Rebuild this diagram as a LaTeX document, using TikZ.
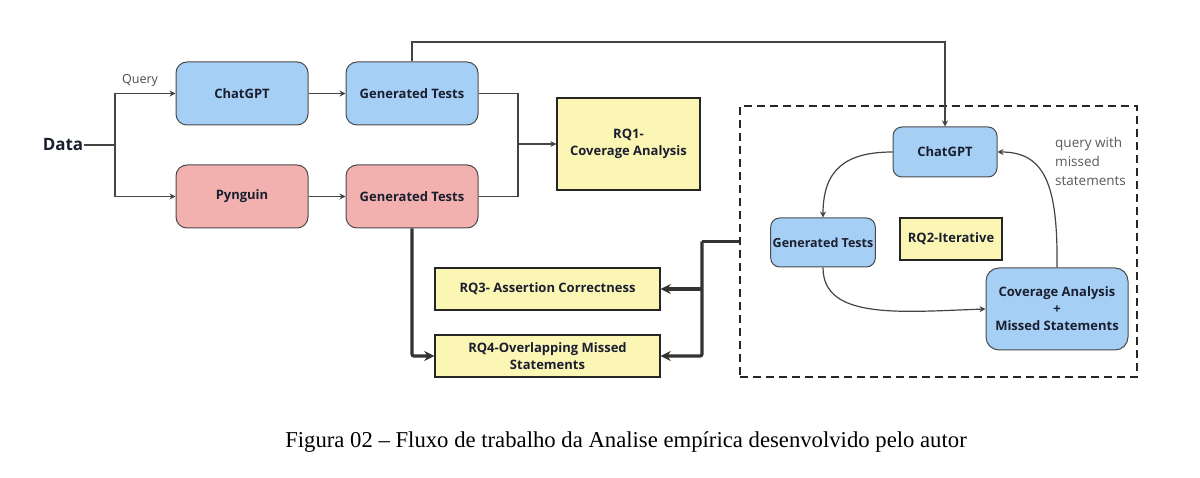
\documentclass[tikz,border=0pt]{standalone}
\usepackage{fontspec}
\setmainfont{Open Sans}
\newfontfamily\capfont{Liberation Serif}
\usetikzlibrary{arrows.meta,calc}
\definecolor{bfill}{HTML}{A6CFF5}
\definecolor{pfill}{HTML}{F2B1AF}
\definecolor{yfill}{HTML}{FCF6B4}
\definecolor{edge}{HTML}{4A4A4A}
\definecolor{txt}{HTML}{1A1F30}
\definecolor{lne}{HTML}{444444}
\tikzset{
  box/.style={draw=edge, line width=1pt, rounded corners=11pt, text=txt,
    font=\bfseries\fontsize{13}{15}\selectfont, align=center, inner sep=2pt},
  bluebox/.style={box, fill=bfill},
  pinkbox/.style={box, fill=pfill},
  rqbox/.style={draw=black!85, line width=1.4pt, fill=yfill, text=txt,
    font=\bfseries\fontsize{13}{17}\selectfont, align=center, inner sep=2pt},
  conn/.style={draw=lne, line width=1.2pt, -{Stealth[length=6pt,width=6pt]}},
  plain/.style={draw=lne, line width=1.2pt},
  bold/.style={draw=black!80, line width=3.2pt, rounded corners=2pt},
  boldarr/.style={bold, -{Stealth[length=10pt,width=10pt]}},
  lbl/.style={text=black!65, font=\fontsize{13.5}{19}\selectfont, align=left}
}
\begin{document}
\begin{tikzpicture}[x=1pt,y=-1pt]
\useasboundingbox (0,0) rectangle (1200,478);
% left part
\node[text=txt, font=\bfseries\fontsize{17}{20}\selectfont, inner sep=1pt] (data) at (63,145) {Data};
\node[bluebox, minimum width=132pt, minimum height=63pt] (chat) at (242,93.5) {ChatGPT};
\node[pinkbox, minimum width=132pt, minimum height=63pt] (pyn) at (242,196.5) {Pynguin};
\node[bluebox, minimum width=132pt, minimum height=63pt] (gt1) at (412,93.5) {Generated Tests};
\node[pinkbox, minimum width=132pt, minimum height=63pt] (gt2) at (412,196.5) {Generated Tests};
\node[rqbox, minimum width=143pt, minimum height=92pt] (rq1) at (628.5,144) {RQ1-\\Coverage Analysis};
\node[text=black!70, font=\fontsize{12.5}{14}\selectfont] (q) at (140,80) {Query};
\coordinate (j) at (115,145);
\coordinate (m) at (518,144);
\coordinate (top) at (412,42);
\draw[plain] (data.east) -- (j);
\draw[conn] (j) |- (chat.west);
\draw[conn] (j) |- (pyn.west);
\draw[conn] (chat.east) -- (gt1.west);
\draw[conn] (pyn.east) -- (gt2.west);
\draw[plain] (gt1.east) -| (m);
\draw[plain] (gt2.east) -| (m);
\draw[conn] (m) -- (rq1.west);
% RQ3 / RQ4
\node[rqbox, minimum width=225pt, minimum height=42pt] (rq3) at (547.5,289) {RQ3- Assertion Correctness};
\node[rqbox, minimum width=225pt, minimum height=42pt, font=\bfseries\fontsize{13}{17}\selectfont] (rq4) at (547.5,356) {RQ4-Overlapping Missed\\Statements};
% dashed frame
\node[draw=black!85, line width=1.8pt, dash pattern=on 8pt off 5pt, minimum width=397pt, minimum height=271pt, inner sep=0pt] (dbox) at (938.5,241.5) {};
% inner nodes
\node[bluebox, rounded corners=9pt, minimum width=104pt, minimum height=50pt] (ichat) at (945,152) {ChatGPT};
\node[bluebox, rounded corners=9pt, minimum width=102pt, minimum height=49pt, font=\bfseries\fontsize{12.5}{15}\selectfont] (igt) at (823,242.5) {Generated Tests};
\node[rqbox, minimum width=102pt, minimum height=42pt] (rq2) at (951,239) {RQ2-Iterative};
\node[bluebox, rounded corners=13pt, minimum width=142pt, minimum height=82pt, font=\bfseries\fontsize{13}{17}\selectfont] (cov) at (1057,309) {Coverage Analysis\\+\\Missed Statements};
\node[lbl, anchor=north west, inner sep=0pt] (qm) at (1055,137) {query with\\missed\\statements};
% connectors
\draw[conn] (gt1.north) -- (top) -| (ichat.north);
\draw[conn] (ichat.west) .. controls (845,152) and (823,170) .. (igt.north);
\draw[conn] (igt.south) .. controls (823,320) and (900,312) .. (cov.west);
\draw[conn] (cov.north) .. controls (1058,185) and (1045,152) .. (ichat.east);
\coordinate (k) at (702,241.5);
\draw[boldarr] (gt2.south) |- (rq4.west);
\draw[bold] (dbox.west) -- (k);
\draw[boldarr] (k) |- (rq4.east);
\draw[boldarr] (k |- rq3.east) -- (rq3.east);
% caption
\node[font=\capfont\fontsize{22.7}{26}\selectfont] (cap) at (626,442) {Figura 02 – Fluxo de trabalho da Analise empírica desenvolvido pelo autor};
\end{tikzpicture}
\end{document}
